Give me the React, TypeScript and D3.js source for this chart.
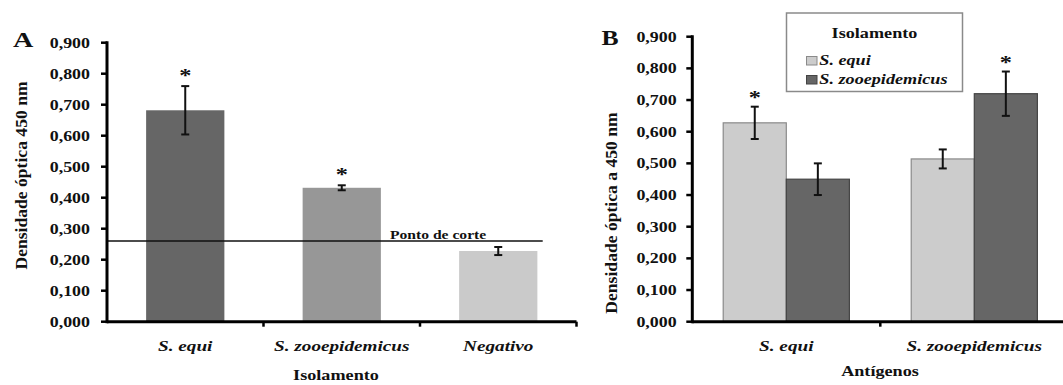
import React from "react";
import * as d3 from "d3";

const yTickValues = [0, 0.1, 0.2, 0.3, 0.4, 0.5, 0.6, 0.7, 0.8, 0.9];

// Panel A
const panelACategories = ["S. equi", "S. zooepidemicus", "Negativo"];
const panelAValues = [0.682, 0.432, 0.228];
const panelAErrors = [0.078, 0.008, 0.013];
const panelASignificant = [true, true, false];
const panelAColors = ["#666666", "#979797", "#cacaca"];
const cutoffValue = 0.26;
const cutoffLabel = "Ponto de corte";

// Panel B
const panelBAntigens = ["S. equi", "S. zooepidemicus"];
const panelBSeries = ["S. equi", "S. zooepidemicus"];
const panelBEquiValues = [0.628, 0.514];
const panelBEquiErrors = [0.051, 0.03];
const panelBZooValues = [0.45, 0.72];
const panelBZooErrors = [0.05, 0.07];
const panelBSignificant = [[true, false], [false, true]];
const panelBColors = ["#cccccc", "#666666"];
const panelBStrokes = ["#8a8a8a", "#444444"];

const FONT = "'Liberation Serif', 'Times New Roman', serif";
const SX = 1.28;
const fmt = (v: number) => d3.format(".3f")(v).replace(".", ",");

function T({ x, y, size, anchor = "middle", italic = false, sx = SX, rotate = 0, children }: any) {
  return (
    <text
      transform={`translate(${x},${y}) scale(${sx},1)${rotate ? ` rotate(${rotate})` : ""}`}
      fontFamily={FONT}
      fontWeight="bold"
      fontStyle={italic ? "italic" : "normal"}
      fontSize={size}
      textAnchor={anchor}
      fill="#111"
    >
      {children}
    </text>
  );
}

function ErrorBar({ x, y1, y2, w = 8 }: any) {
  return (
    <g stroke="#111" strokeWidth={2}>
      <line x1={x} x2={x} y1={y1} y2={y2} />
      <line x1={x - w / 2} x2={x + w / 2} y1={y1} y2={y1} />
      <line x1={x - w / 2} x2={x + w / 2} y1={y2} y2={y2} />
    </g>
  );
}

function Star({ x, yTop }: any) {
  return <T x={x} y={yTop - 2} size={19}>*</T>;
}

export default function App() {
  // Panel A scales
  const axA = 107;
  const x0A = 107, x1A = 576.5, yBase = 321.7;
  const yA = d3.scaleLinear().domain([0, 0.9]).range([yBase, 42.7]);
  const xA = d3.scaleBand<string>().domain(panelACategories).range([x0A, x1A]).paddingInner(0.5).paddingOuter(0.25);
  const stepA = xA.step();

  // Panel B scales
  const axB = 692.3;
  const yB = d3.scaleLinear().domain([0, 0.9]).range([yBase, 36.7]);
  const xB0 = d3.scaleBand<string>().domain(panelBAntigens).range([axB, axB + 2 * 188]).padding(0);
  const xB1 = d3.scaleBand<string>().domain(panelBSeries).range([0, xB0.bandwidth()]).paddingInner(0).paddingOuter(0.49);
  const bValues = [panelBEquiValues, panelBZooValues];
  const bErrors = [panelBEquiErrors, panelBZooErrors];

  return (
    <svg width={1063} height={385} style={{ position: "absolute", left: 0, top: 0, background: "#fff" }}>
      <rect x={0} y={0} width={1063} height={385} fill="#fff" />

      {/* ===== Panel A ===== */}
      <T x={13} y={46.5} size={22} anchor="start">A</T>
      {panelACategories.map((c, i) => {
        const x = xA(c)!;
        const v = panelAValues[i];
        const e = panelAErrors[i];
        const cx = x + xA.bandwidth() / 2;
        return (
          <g key={c}>
            <rect x={x} y={yA(v)} width={xA.bandwidth()} height={yBase - yA(v)} fill={panelAColors[i]} />
            <ErrorBar x={cx} y1={yA(v + e)} y2={yA(v - e)} />
            {panelASignificant[i] && <Star x={cx} yTop={yA(v + e) - 2} />}
          </g>
        );
      })}
      {/* cutoff line */}
      <line x1={axA} x2={542.7} y1={yA(cutoffValue)} y2={yA(cutoffValue)} stroke="#111" strokeWidth={1.5} />
      <T x={390} y={yA(cutoffValue) - 2.3} size={12.2} anchor="start">{cutoffLabel}</T>
      {/* y axis */}
      <line x1={axA} x2={axA} y1={yA(0.9) - 1.5} y2={yBase + 1.5} stroke="#000" strokeWidth={3} />
      {yTickValues.map((t) => (
        <g key={t}>
          <line x1={axA - 6} x2={axA} y1={yA(t)} y2={yA(t)} stroke="#000" strokeWidth={2.5} />
          <T x={90} y={yA(t) + 4.8} size={14} anchor="end">{fmt(t)}</T>
        </g>
      ))}
      {/* x axis */}
      <line x1={axA} x2={x1A} y1={yBase} y2={yBase} stroke="#000" strokeWidth={3} />
      {[1, 2, 3].map((k) => (
        <line key={k} x1={x0A + k * stepA} x2={x0A + k * stepA} y1={yBase} y2={yBase + 5} stroke="#000" strokeWidth={2.5} />
      ))}
      {panelACategories.map((c) => (
        <T key={c} x={xA(c)! + xA.bandwidth() / 2} y={351} size={15} italic>{c}</T>
      ))}
      <T x={336} y={379.5} size={14.2}>Isolamento</T>
      <T x={27} y={175.5} size={17.6} sx={1} rotate={-90}>Densidade óptica 450 nm</T>

      {/* ===== Panel B ===== */}
      <T x={601.5} y={45} size={20} anchor="start">B</T>
      {panelBAntigens.map((a, i) => (
        <g key={a}>
          {panelBSeries.map((s, j) => {
            const v = bValues[j][i];
            const e = bErrors[j][i];
            const x = xB0(a)! + xB1(s)!;
            const cx = x + xB1.bandwidth() / 2;
            return (
              <g key={s}>
                <rect x={x} y={yB(v)} width={xB1.bandwidth()} height={yBase - yB(v)} fill={panelBColors[j]} stroke={panelBStrokes[j]} strokeWidth={1.2} />
                <ErrorBar x={cx} y1={yB(v + e)} y2={yB(v - e)} />
                {panelBSignificant[i][j] && <Star x={cx} yTop={yB(v + e) - 0.5} />}
              </g>
            );
          })}
        </g>
      ))}
      {/* y axis B */}
      <line x1={axB} x2={axB} y1={yB(0.9) - 1.5} y2={yBase + 1.5} stroke="#000" strokeWidth={3} />
      {yTickValues.map((t) => (
        <g key={t}>
          <line x1={axB - 6} x2={axB} y1={yB(t)} y2={yB(t)} stroke="#000" strokeWidth={2.5} />
          <T x={676.7} y={yB(t) + 4.8} size={14} anchor="end">{fmt(t)}</T>
        </g>
      ))}
      <line x1={axB} x2={1063} y1={yBase} y2={yBase} stroke="#000" strokeWidth={3} />
      <line x1={axB + 188} x2={axB + 188} y1={yBase} y2={yBase + 5} stroke="#000" strokeWidth={2.5} />
      {panelBAntigens.map((a) => (
        <T key={a} x={xB0(a)! + xB0.bandwidth() / 2} y={351} size={15} italic>{a}</T>
      ))}
      <T x={880} y={376} size={14.2}>Antígenos</T>
      <T x={617} y={213} size={17.6} sx={1} rotate={-90}>Densidade óptica a 450 nm</T>

      {/* legend */}
      <rect x={786.5} y={13} width={176} height={78.5} fill="#fff" stroke="#8a8a8a" strokeWidth={1.5} />
      <T x={874.5} y={38.3} size={14.2}>Isolamento</T>
      {panelBSeries.map((s, j) => (
        <g key={s}>
          <rect x={806.5} y={56.5 + j * 19} width={10.5} height={8.5} fill={panelBColors[j]} stroke={panelBStrokes[j]} strokeWidth={1} />
          <T x={819.3} y={65 + j * 19} size={14.2} anchor="start" italic>{s}</T>
        </g>
      ))}
    </svg>
  );
}
